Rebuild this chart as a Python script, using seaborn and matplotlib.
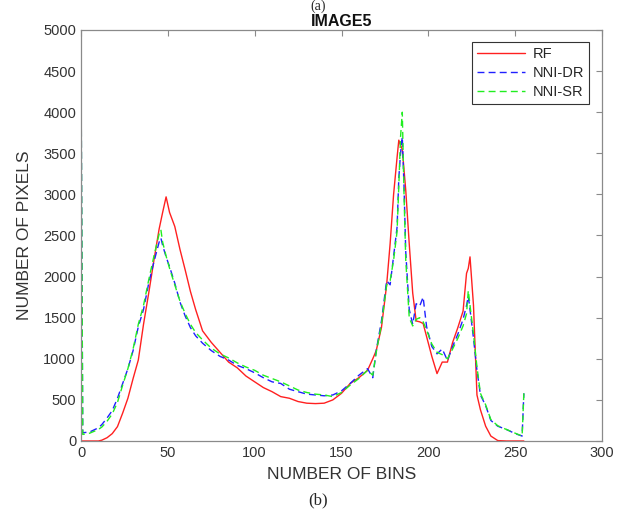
import matplotlib
matplotlib.use("Agg")
import matplotlib.pyplot as plt
import seaborn as sns
import pandas as pd

# histogram samples (bin -> pixel count)
bins = [0, 1, 5, 10, 12, 15, 18, 21, 24, 27, 30, 33, 36, 39, 42, 45, 46, 47, 49, 51,
        54, 57, 60, 63, 66, 70, 75, 80, 85, 90, 95, 100, 105, 110, 115, 120, 125, 130,
        135, 140, 145, 150, 155, 160, 165, 168, 170, 173, 176, 178, 180, 182, 183, 184,
        185, 186, 187, 189, 191, 193, 195, 197, 199, 202, 205, 208, 211, 214, 217, 220,
        222, 223, 224, 226, 228, 230, 233, 236, 240, 245, 250, 254, 255]

rf = [0, 0, 0, 0, 10, 40, 90, 175, 340, 520, 760, 985, 1420, 1800, 2200, 2580, 2680, 2780, 2970, 2780,
      2610, 2330, 2080, 1820, 1600, 1340, 1200, 1080, 960, 890, 790, 720, 650, 600, 540, 520, 480, 460,
      455, 460, 500, 580, 700, 770, 860, 1000, 1100, 1380, 1900, 2400, 3000, 3450, 3660, 3600,
      3550, 3300, 3050, 2400, 1800, 1460, 1450, 1430, 1270, 1030, 820, 960, 960, 1200, 1380, 1580,
      2040, 2100, 2240, 1650, 560, 380, 180, 60, 5, 0, 0, 0, 0]

nni_dr = [4600, 100, 110, 160, 200, 280, 370, 520, 700, 880, 1100, 1390, 1600, 1920, 2180, 2420, 2470, 2380, 2240, 2120,
          1920, 1690, 1520, 1380, 1280, 1190, 1100, 1030, 985, 920, 880, 830, 770, 720, 700, 630, 600, 570,
          560, 550, 560, 610, 700, 800, 880, 770, 1100, 1460, 1950, 1900, 2250, 2600, 3200, 3500,
          3700, 3100, 2300, 1600, 1420, 1670, 1640, 1750, 1390, 1150, 1060, 1120, 980, 1150, 1300, 1480,
          1650, 1760, 1600, 1250, 860, 560, 430, 250, 180, 140, 90, 60, 580]

nni_sr = [4600, 80, 95, 140, 170, 240, 330, 470, 680, 880, 1120, 1420, 1650, 1960, 2250, 2520, 2570, 2420, 2250, 2100,
          1900, 1700, 1550, 1420, 1320, 1230, 1130, 1060, 1010, 950, 900, 860, 800, 760, 720, 670, 620, 590,
          570, 560, 540, 590, 680, 760, 860, 800, 1080, 1420, 1900, 1950, 2200, 2550, 3100, 3700,
          4000, 3000, 2200, 1500, 1400, 1480, 1500, 1450, 1350, 1180, 1080, 1050, 1000, 1120, 1250, 1400,
          1550, 1830, 1650, 1300, 900, 580, 440, 260, 185, 140, 95, 60, 580]

labels = ["RF", "NNI-DR", "NNI-SR"]

df = pd.concat([
    pd.DataFrame({"bin": bins, "count": rf, "method": "RF"}),
    pd.DataFrame({"bin": bins, "count": nni_dr, "method": "NNI-DR"}),
    pd.DataFrame({"bin": bins, "count": nni_sr, "method": "NNI-SR"}),
], ignore_index=True)

sns.set_style("white")
plt.rcParams["font.family"] = ["Liberation Sans", "DejaVu Sans"]

fig = plt.figure(figsize=(6.28, 5.13), dpi=100)
ax = fig.add_axes([81 / 628, 1 - 441 / 513, 521 / 628, 411 / 513])

sns.lineplot(
    data=df, x="bin", y="count", hue="method", style="method",
    hue_order=labels, style_order=labels,
    palette={"RF": "#ff2020", "NNI-DR": "#2020ff", "NNI-SR": "#20ee20"},
    dashes={"RF": "", "NNI-DR": (5, 3), "NNI-SR": (5, 3)},
    linewidth=1.0, ax=ax, sort=False,
)

ax.set_xlim(0, 300)
ax.set_ylim(0, 5000)
ax.set_xticks(range(0, 301, 50))
ax.set_yticks(range(0, 5001, 500))
ax.tick_params(direction="in", length=4, top=True, right=True,
               labelsize=10.5, colors="#8a8a8a", labelcolor="#333333", width=0.8)
for sp in ax.spines.values():
    sp.set_color("#8a8a8a")
    sp.set_linewidth(0.9)

ax.set_xlabel("NUMBER OF BINS", fontsize=12.5, color="#333333", labelpad=5)
ax.set_ylabel("NUMBER OF PIXELS", fontsize=12.5, color="#333333", labelpad=8)
ax.set_title("IMAGE5", fontsize=11.5, fontweight="bold", color="#111111", pad=3)

leg = ax.legend(loc="upper right", bbox_to_anchor=(1 - 13 / 521, 1 - 12 / 411),
                fontsize=10.5, handlelength=3.3, labelspacing=0.35, borderaxespad=0,
                frameon=True, fancybox=False, edgecolor="#333333", framealpha=1,
                borderpad=0.35, handletextpad=0.5)
leg.get_frame().set_linewidth(0.8)

fig.text(318 / 628, 1.0, "(a)", ha="center", va="top",
         fontsize=10, family="Liberation Serif")
fig.text(318 / 628, 1 - 500 / 513, "(b)", ha="center", va="center",
         fontsize=12, family="Liberation Serif")

fig.savefig("out.png", dpi=100)
